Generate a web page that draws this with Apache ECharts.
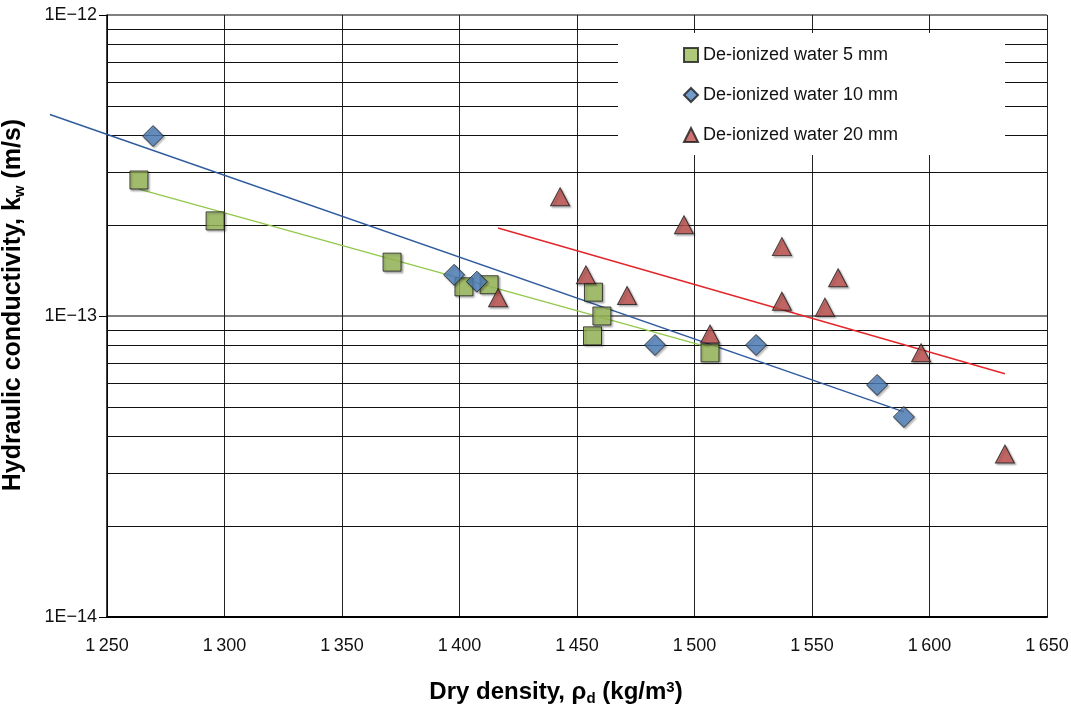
<!DOCTYPE html>
<html>
<head>
<meta charset="utf-8">
<script src="https://cdn.jsdelivr.net/npm/echarts@6/dist/echarts.min.js"></script>
<style>html,body{margin:0;padding:0;background:#fff}#c{width:1071px;height:707px}</style>
</head>
<body>
<div id="c"></div>
<script>
// ---- data ----
const seriesNames = ['De-ionized water 5 mm', 'De-ionized water 10 mm', 'De-ionized water 20 mm'];
const dens5  = [1263.6, 1296.0, 1371.3, 1401.9, 1412.6, 1457.0, 1460.6, 1456.6, 1506.6];
const k5     = [2.83e-13, 2.07e-13, 1.51e-13, 1.25e-13, 1.27e-13, 1.20e-13, 1.00e-13, 8.59e-14, 7.54e-14];
const dens10 = [1269.6, 1397.7, 1407.4, 1483.2, 1526.2, 1577.7, 1589.1];
const k10    = [3.96e-13, 1.37e-13, 1.30e-13, 8.01e-14, 8.01e-14, 5.90e-14, 4.62e-14];
const dens20 = [1442.8, 1495.5, 1453.8, 1416.4, 1471.3, 1506.6, 1537.2, 1537.2, 1561.1, 1555.5, 1596.4, 1632.1];
const k20    = [2.49e-13, 2.01e-13, 1.37e-13, 1.15e-13, 1.17e-13, 8.71e-14, 1.70e-13, 1.12e-13, 1.34e-13, 1.07e-13, 7.55e-14, 3.48e-14];
// trend line end points (5 mm, 10 mm, 20 mm)
const trendX0 = [1263.6, 1225.7, 1416.4];
const trendY0 = [2.64e-13, 4.67e-13, 1.96e-13];
const trendX1 = [1506.6, 1589.1, 1632.1];
const trendY1 = [7.85e-14, 4.80e-14, 6.43e-14];
const trendColors = ['#92C94A', '#2F5B9E', '#E3262B'];
// axes
const xMin = 1250, xMax = 1650, xStep = 50;
const yDecades = [1e-14, 1e-13, 1e-12];
const minorMult = [2, 3, 4, 5, 6, 7, 8, 9];

const zip = (a, b) => a.map((v, i) => [v, b[i]]);
const minorData = [];
yDecades.slice(0, -1).forEach(d => minorMult.forEach(m => minorData.push([xMin, d * m, xMax])));
const trendData = trendX0.map((x, i) => [x, trendY0[i], trendX1[i], trendY1[i]]);

const shadow = { shadowBlur: 2, shadowOffsetX: 1.5, shadowOffsetY: 1.5, shadowColor: 'rgba(0,0,0,0.35)' };
const FONT = 'Liberation Sans, Arial, sans-serif';

const chart = echarts.init(document.getElementById('c'), null, { renderer: 'canvas' });
chart.setOption({
  animation: false,
  backgroundColor: '#fff',
  textStyle: { fontFamily: FONT },
  grid: { left: 107, top: 15, right: 24, bottom: 90, containLabel: false, outerBoundsMode: 'none' },
  legend: {
    data: seriesNames,
    orient: 'vertical',
    left: 618, top: 33,
    backgroundColor: '#fff',
    padding: [13, 107, 11, 65],
    itemGap: 22,
    itemWidth: 14, itemHeight: 14,
    textStyle: { fontSize: 18, color: '#111', fontFamily: FONT },
    z: 10
  },
  xAxis: {
    type: 'value', min: xMin, max: xMax, interval: xStep,
    axisLine: { show: true, lineStyle: { color: '#000', width: 2 } },
    axisTick: { show: false },
    axisLabel: {
      fontSize: 18, color: '#111', margin: 20,
      formatter: v => String(v).replace(/\B(?=(\d{3})+(?!\d))/g, '\u2009')
    },
    splitLine: { show: true, lineStyle: { color: '#222', width: 1 } },
    name: '{t|Dry density, \u03C1}{s|d}{t| (kg/m}{p|3}{t|)}',
    nameLocation: 'middle', nameGap: 62,
    nameTextStyle: {
      padding: [0, 42, 0, 0],
      rich: {
        t: { fontSize: 24, fontWeight: 'bold', color: '#000', fontFamily: FONT },
        s: { fontSize: 15, fontWeight: 'bold', color: '#000', fontFamily: FONT, padding: [12, 0, 0, 0] },
        p: { fontSize: 15, fontWeight: 'bold', color: '#000', fontFamily: FONT, padding: [0, 0, 10, 0] }
      }
    }
  },
  yAxis: {
    type: 'log', logBase: 10, min: 1e-14, max: 1e-12,
    axisLine: { show: true, onZero: false, lineStyle: { color: '#000', width: 1.5 } },
    axisTick: { show: true, length: 8, lineStyle: { color: '#000' } },
    axisLabel: {
      fontSize: 18, color: '#111', margin: 10,
      formatter: v => '1E\u2212' + Math.round(-Math.log10(v))
    },
    splitLine: { show: true, lineStyle: { color: '#7f7f7f', width: 2 } },
    name: '{t|Hydraulic conductivity, k}{s|w}{t| (m/s)}',
    nameLocation: 'middle', nameGap: 80, nameRotate: 90,
    nameTextStyle: {
      padding: [0, 0, 0, 22],
      rich: {
        t: { fontSize: 25, fontWeight: 'bold', color: '#000', fontFamily: FONT },
        s: { fontSize: 15, fontWeight: 'bold', color: '#000', fontFamily: FONT, padding: [13, 0, 0, 0] }
      }
    }
  },
  series: [
    {
      name: 'minor-grid', type: 'custom', silent: true, z: 1, clip: false,
      data: minorData,
      encode: { x: [0, 2], y: 1 },
      renderItem: (params, api) => {
        const p0 = api.coord([api.value(0), api.value(1)]);
        const p1 = api.coord([api.value(2), api.value(1)]);
        const y = Math.round(p0[1]) + 0.5;
        return { type: 'line', shape: { x1: p0[0], y1: y, x2: p1[0], y2: y },
                 style: { stroke: '#111', lineWidth: 1 } };
      }
    },
    {
      name: 'trend', type: 'custom', silent: true, z: 3, clip: false,
      data: trendData,
      encode: { x: [0, 2], y: [1, 3] },
      renderItem: (params, api) => {
        const p0 = api.coord([api.value(0), api.value(1)]);
        const p1 = api.coord([api.value(2), api.value(3)]);
        return { type: 'line', shape: { x1: p0[0], y1: p0[1], x2: p1[0], y2: p1[1] },
                 style: { stroke: trendColors[params.dataIndex], lineWidth: 1.4 } };
      }
    },
    { name: seriesNames[0], type: 'scatter', data: zip(dens5, k5), symbol: 'rect', symbolSize: 18,
      itemStyle: Object.assign({ color: '#9BBB59', borderColor: '#1a1a1a', borderWidth: 1 }, shadow), z: 5 },
    { name: seriesNames[1], type: 'scatter', data: zip(dens10, k10), symbol: 'diamond', symbolSize: 21,
      itemStyle: Object.assign({ color: '#4F81BD', borderColor: '#1a1a1a', borderWidth: 1 }, shadow), z: 6 },
    { name: seriesNames[2], type: 'scatter', data: zip(dens20, k20), symbol: 'triangle', symbolSize: [19, 18],
      itemStyle: Object.assign({ color: '#C0504D', borderColor: '#1a1a1a', borderWidth: 1 }, shadow), z: 6 }
  ]
});
</script>
</body>
</html>
